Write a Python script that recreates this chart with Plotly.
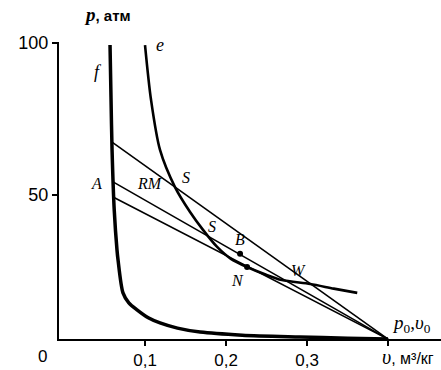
import plotly.graph_objects as go

# ---- data ----
# curve f (shock adiabat), v in m3/kg, p in atm
f_v = [0.0568, 0.0580, 0.0593, 0.0620, 0.0654, 0.0667, 0.0728, 0.0800, 0.0901, 0.1040, 0.1185, 0.1400, 0.1680, 0.2200, 0.2910, 0.3500, 0.4000]
f_p = [99.3, 82.0, 64.8, 45.0, 31.9, 28.6, 17.8, 14.5, 12.2, 9.6, 7.9, 6.2, 4.9, 3.9, 3.3, 2.9, 2.6]
# curve e (detonation adiabat)
e_v = [0.1000, 0.1074, 0.1185, 0.1370, 0.1556, 0.1716, 0.1890, 0.2060, 0.2260, 0.2480, 0.2690, 0.3040, 0.3330, 0.3620]
e_p = [99.3, 81.3, 64.8, 52.6, 44.4, 38.5, 32.9, 29.0, 26.3, 23.9, 22.0, 20.7, 19.2, 17.8]
# Rayleigh lines from (p0, v0)
v0, p0 = 0.400, 2.6
line_start_v = [0.0593, 0.0605, 0.0605]
line_start_p = [67.4, 54.3, 49.3]
# marked points B and N
pts_v = [0.2173, 0.2260]
pts_p = [30.7, 26.3]

x_tickvals = [0.1, 0.2, 0.3, 0.4]
x_ticktext = ["0,1", "0,2", "0,3", ""]
y_tickvals = [50, 100]
y_ticktext = ["50", "100"]

fig = go.Figure()
fig.add_trace(go.Scatter(x=f_v, y=f_p, mode="lines", line=dict(color="black", width=3.5, shape="spline", smoothing=0.8), hoverinfo="skip"))
fig.add_trace(go.Scatter(x=e_v, y=e_p, mode="lines", line=dict(color="black", width=2.6, shape="spline", smoothing=0.8), hoverinfo="skip"))
for sv, sp in zip(line_start_v, line_start_p):
    fig.add_trace(go.Scatter(x=[sv, v0], y=[sp, p0], mode="lines", line=dict(color="black", width=1.6), hoverinfo="skip"))
fig.add_trace(go.Scatter(x=pts_v, y=pts_p, mode="markers", marker=dict(color="black", size=6), hoverinfo="skip"))

serif = "Liberation Serif"
sans = "Liberation Sans"
labels = [
    ("<i>f</i>", 0.042, 90.5, 18),
    ("<i>e</i>", 0.1185, 99.3, 18),
    ("<i>A</i>", 0.0407, 53.9, 16),
    ("<i>RM</i>", 0.106, 53.9, 16),
    ("<i>S</i>", 0.1506, 55.6, 16),
    ("<i>S</i>", 0.1827, 39.5, 16),
    ("<i>B</i>", 0.2173, 35.2, 16),
    ("<i>N</i>", 0.2136, 22.0, 16),
    ("<i>W</i>", 0.290, 25.0, 16),
    ("<i>p</i><sub>0</sub>,<i>υ</i><sub>0</sub>", 0.429, 7.6, 19),
]
for txt, x, y, s in labels:
    fig.add_annotation(x=x, y=y, text=txt, showarrow=False, font=dict(family=serif, size=s, color="black"))

fig.add_annotation(xref="paper", yref="paper", x=0.128, y=1.091, xanchor="center", yanchor="middle",
                   text="<b><i style='font-family:Liberation Serif;font-size:19px'>p</i>, атм</b>", showarrow=False,
                   font=dict(family=sans, size=15, color="black"))
fig.add_annotation(xref="paper", yref="paper", x=-0.0445, y=-0.0606, xanchor="center", yanchor="middle", text="0",
                   showarrow=False, font=dict(family=sans, size=17, color="black"))
fig.add_annotation(xref="paper", yref="paper", x=0.9136, y=-0.0606, xanchor="center", yanchor="middle",
                   text="<i style='font-family:Liberation Serif;font-size:20px'>υ</i>, м³/кг", showarrow=False,
                   font=dict(family=sans, size=16, color="black"))

fig.update_layout(
    width=441, height=370,
    margin=dict(l=59, r=0, t=42, b=31),
    paper_bgcolor="white", plot_bgcolor="white",
    showlegend=False,
    xaxis=dict(range=[-0.0062, 0.4654], showgrid=False, zeroline=False, showline=True, linecolor="black", linewidth=2,
               tickvals=x_tickvals, ticktext=x_ticktext, ticks="outside", ticklen=5, tickwidth=1.5, tickcolor="black",
               tickfont=dict(family=sans, size=17, color="black")),
    yaxis=dict(range=[2.63, 100.3], showgrid=False, zeroline=False, showline=True, linecolor="black", linewidth=2,
               tickvals=y_tickvals, ticktext=y_ticktext, ticks="outside", ticklen=5, tickwidth=1.5, tickcolor="black",
               tickfont=dict(family=sans, size=18, color="black")),
)
fig.write_html("out.html", config={"displayModeBar": False}, post_script="document.body.style.margin='0';")
